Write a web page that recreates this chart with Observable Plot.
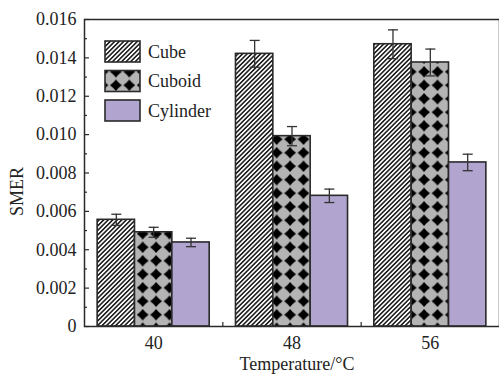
<!DOCTYPE html>
<html><head><meta charset="utf-8">
<script src="https://cdn.jsdelivr.net/npm/d3@7"></script>
<script src="https://cdn.jsdelivr.net/npm/@observablehq/plot@0.6"></script>
<style>body{margin:0;background:#fff} svg text{font-family:'Liberation Serif',serif !important;font-variant:normal !important}</style>
</head><body><div id="chart"></div>
<script>
// ---- data ----
const temps = [40, 48, 56];
const series = ["Cube", "Cuboid", "Cylinder"];
const cube = [0.00556, 0.01421, 0.01471];
const cubeErr = [0.00029, 0.00070, 0.00075];
const cuboid = [0.00491, 0.00992, 0.01376];
const cuboidErr = [0.00026, 0.00050, 0.00070];
const cylinder = [0.00438, 0.00681, 0.00855];
const cylinderErr = [0.00022, 0.00035, 0.00043];
const yTicks = [0, 0.002, 0.004, 0.006, 0.008, 0.010, 0.012, 0.014, 0.016];
const yMinorTicks = [0.001, 0.003, 0.005, 0.007, 0.009, 0.011, 0.013, 0.015];
const xMinorTicks = [44, 52];
const xTickLabels = ["40", "48", "56"];

const values = [cube, cuboid, cylinder];
const errs = [cubeErr, cuboidErr, cylinderErr];
const rows = temps.flatMap((t, j) => series.map((s, i) => ({temp: t, series: s, i, value: values[i][j], err: errs[i][j]})));

const BW = 2.16; // bar width in x units (grouped layout)
const fills = ["url(#hatch)", "url(#cuboidPat)", "#b1a5cf"];
const ink = "#2a2a2a";
const serif = "'Liberation Serif', 'Times New Roman', serif";

const capSymbol = {draw(ctx, size) { const w = Math.sqrt(size / Math.PI); ctx.moveTo(-w, 0); ctx.lineTo(w, 0); }};
const cx = d => d.temp + (d.i - 1) * BW;

function legendMark(index, scales, values, dims) {
  const g = d3.create("svg:g");
  const defs = g.append("defs");
  const h = defs.append("pattern").attr("id", "hatch").attr("patternUnits", "userSpaceOnUse")
    .attr("width", 3.2).attr("height", 3.2).attr("patternTransform", "rotate(45)");
  h.append("rect").attr("width", 3.2).attr("height", 3.2).attr("fill", "#fff");
  h.append("line").attr("x1", 1.6).attr("x2", 1.6).attr("y1", -1).attr("y2", 4.2).attr("stroke", "#000").attr("stroke-width", 1.4);
  const c = defs.append("pattern").attr("id", "cuboidPat").attr("patternUnits", "userSpaceOnUse")
    .attr("x", 2).attr("y", 11).attr("width", 13.4).attr("height", 13.5);
  c.append("rect").attr("width", 13.4).attr("height", 13.5).attr("fill", "#b4b4b4");
  c.append("path").attr("transform", "translate(6.7,6.75)")
    .attr("d", "M0,-5.9 Q2.5,-2.5 5.9,0 Q2.5,2.5 0,5.9 Q-2.5,2.5 -5.9,0 Q-2.5,-2.5 0,-5.9Z").attr("fill", "#000");
  series.forEach((s, i) => {
    const y0 = dims.marginTop + 22 + i * 29.5;
    g.append("rect").attr("x", dims.marginLeft + 21).attr("y", y0).attr("width", 35).attr("height", 21)
      .attr("fill", fills[i]).attr("stroke", ink).attr("stroke-width", 1.6);
    g.append("text").attr("x", dims.marginLeft + 64).attr("y", y0 + 10.5).attr("dy", "0.35em")
      .attr("text-anchor", "start").attr("font-size", 18).attr("fill", "#222").text(s);
  });
  return g.node();
}

const chart = Plot.plot({
  width: 499,
  height: 376,
  marginLeft: 84,
  marginRight: 0,
  marginTop: 19,
  marginBottom: 50,
  style: {fontFamily: serif, fontSize: "18px", color: "#222", background: "#fff"},
  x: {domain: [36, 60]},
  y: {domain: [0, 0.016]},
  color: {type: "ordinal", domain: series, range: fills},
  marks: [
    Plot.rect(rows, {x1: d => d.temp + (d.i - 1.5) * BW, x2: d => d.temp + (d.i - 0.5) * BW, y1: () => 0, y2: "value", fill: "series", stroke: ink, strokeWidth: 1.6}),
    Plot.ruleX(rows, {x: cx, y1: d => d.value - d.err, y2: d => d.value + d.err, stroke: "#333", strokeWidth: 1.3}),
    Plot.dot(rows, {x: cx, y: d => d.value + d.err, symbol: capSymbol, r: 5, stroke: "#333", strokeWidth: 1.3, fill: "none"}),
    Plot.dot(rows, {x: cx, y: d => d.value - d.err, symbol: capSymbol, r: 5, stroke: "#333", strokeWidth: 1.3, fill: "none"}),
    Plot.axisY({ticks: yTicks, tickSize: 0, tickPadding: 8, tickFormat: d => d === 0 ? "0" : d.toFixed(3), label: null, fontSize: 18, fontFamily: serif, fontVariant: "normal", fill: "#222"}),
    Plot.axisY({ticks: yTicks, tickSize: -5, text: null, label: null, stroke: ink, strokeWidth: 1.2}),
    Plot.axisY({ticks: yMinorTicks, tickSize: -3, text: null, label: null, stroke: ink, strokeWidth: 1.2}),
    Plot.axisX({ticks: temps, tickSize: 0, tickPadding: 10, tickFormat: d => xTickLabels[temps.indexOf(d)], label: null, fontSize: 18, fontFamily: serif, fontVariant: "normal", fill: "#222"}),
    Plot.axisX({ticks: xMinorTicks, tickSize: -4, text: null, label: null, stroke: ink, strokeWidth: 1.2}),
    Plot.text(["SMER"], {frameAnchor: "left", textAnchor: "middle", lineAnchor: "middle", rotate: -90, dx: -67, dy: 18.5, fontSize: 18, fill: "#222"}),
    Plot.text(["Temperature/°C"], {frameAnchor: "bottom", textAnchor: "middle", lineAnchor: "middle", dx: 5, dy: 38, fontSize: 18, fill: "#222"}),
    Plot.frame({stroke: ink, strokeWidth: 1.5}),
    legendMark
  ]
});
document.getElementById("chart").appendChild(chart);
</script></body></html>
